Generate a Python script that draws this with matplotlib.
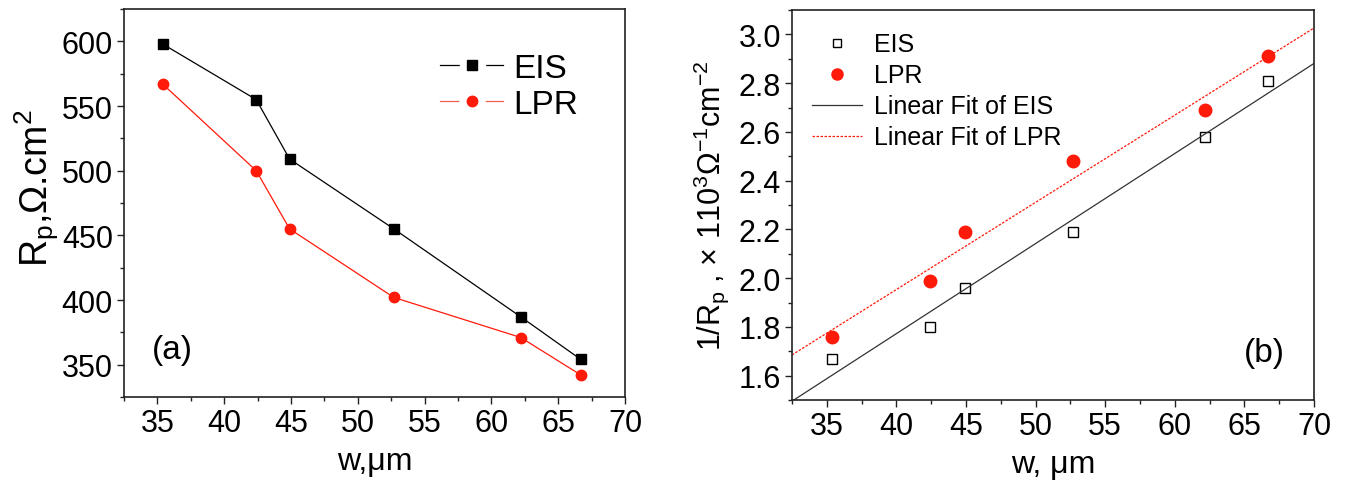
import numpy as np
import matplotlib
matplotlib.use("Agg")
import matplotlib.pyplot as plt
from matplotlib.ticker import MultipleLocator, FormatStrFormatter
from matplotlib.lines import Line2D

plt.rcParams['font.family'] = ['Liberation Sans', 'DejaVu Sans']
plt.rcParams['mathtext.fontset'] = 'custom'
plt.rcParams['mathtext.rm'] = 'Liberation Sans'

# data
w = [35.4, 42.4, 44.9, 52.7, 62.2, 66.7]
rp_eis = [598, 555, 509, 455, 387, 354]
rp_lpr = [567, 500, 455, 402, 371, 342]
inv_eis = [1.67, 1.80, 1.96, 2.19, 2.58, 2.81]
inv_lpr = [1.76, 1.99, 2.19, 2.48, 2.69, 2.91]

red = '#ff1a0a'

fig = plt.figure(figsize=(13.46, 4.81), dpi=100)
ax1 = fig.add_axes([0.0921, 0.1726, 0.3722, 0.8064])
ax2 = fig.add_axes([0.5884, 0.1663, 0.3878, 0.8107])


def style(ax):
    for s in ax.spines.values():
        s.set_color('#222222')
        s.set_linewidth(1.2)
    ax.tick_params(which='both', direction='out', top=False, right=False,
                   labelsize=22, pad=3, color='#222222')
    ax.tick_params(which='major', length=5, width=1)
    ax.tick_params(which='minor', length=3, width=1)
    ax.set_xlim(32.5, 70)
    ax.xaxis.set_major_locator(MultipleLocator(5))
    ax.xaxis.set_minor_locator(MultipleLocator(2.5))


# (a)
style(ax1)
ax1.plot(w, rp_eis, color='black', lw=0.9, marker='s', ms=7)
ax1.plot(w, rp_lpr, color=red, lw=0.9, marker='o', ms=7.5)
ax1.set_ylim(325, 625)
ax1.yaxis.set_major_locator(MultipleLocator(50))
ax1.yaxis.set_minor_locator(MultipleLocator(25))
ax1.set_xlabel('w,μm', fontsize=23, labelpad=6)
ax1.set_ylabel(r'R$_\mathregular{p}$,Ω.cm$^\mathregular{2}$', fontsize=27)
ax1.yaxis.set_label_coords(-0.125, 0.54)
ax1.text(0.055, 0.1, '(a)', transform=ax1.transAxes, fontsize=24)
# legend handles: line broken around the marker
h1 = [(Line2D([], [], color='black', lw=0.9, marker='s', ms=18, mec='white', mfc='white'),
       Line2D([], [], ls='none', marker='s', ms=7, color='black')),
      (Line2D([], [], color='#f06050', lw=0.9, marker='o', ms=18, mec='white', mfc='white'),
       Line2D([], [], ls='none', marker='o', ms=7.5, color=red))]
ax1.legend(h1, ['EIS', 'LPR'], loc='upper right', bbox_to_anchor=(0.94, 0.93),
           frameon=False, fontsize=24, handlelength=1.9, handletextpad=0.3,
           labelspacing=0.15, borderpad=0)

# (b)
style(ax2)
ax2.plot(w, inv_eis, ls='none', marker='s', ms=6.5, mfc='white', mec='black', mew=1)
ax2.plot(w, inv_lpr, ls='none', marker='o', ms=9, color=red)
xf = np.array([32.5, 70])
k1, b1 = np.polyfit(w, inv_eis, 1)
k2, b2 = np.polyfit(w, inv_lpr, 1)
ax2.plot(xf, k1 * xf + b1, color='#333333', lw=0.9)
ax2.plot(xf, k2 * xf + b2, color=red, lw=0.9, ls=(0, (2, 1.2)))
ax2.set_ylim(1.5, 3.1)
ax2.yaxis.set_major_locator(MultipleLocator(0.2))
ax2.yaxis.set_minor_locator(MultipleLocator(0.1))
ax2.yaxis.set_major_formatter(FormatStrFormatter('%.1f'))
ax2.set_xlabel('w, μm', fontsize=23, labelpad=6)
ax2.set_ylabel(r'1/R$_\mathregular{p}$ , × 110$^\mathregular{3}$Ω$^\mathregular{−1}$cm$^\mathregular{−2}$',
               fontsize=22, labelpad=5)
ax2.text(0.865, 0.1, '(b)', transform=ax2.transAxes, fontsize=24)
h2 = [Line2D([], [], ls='none', marker='s', ms=6, mfc='white', mec='black', mew=1),
      Line2D([], [], ls='none', marker='o', ms=8, color=red),
      Line2D([], [], color='#333333', lw=0.9),
      Line2D([], [], color=red, lw=0.9, ls=(0, (2, 1.2)))]
ax2.legend(h2, ['EIS', 'LPR', 'Linear Fit of EIS', 'Linear Fit of LPR'], loc='upper left',
           bbox_to_anchor=(0.015, 0.975), frameon=False, fontsize=18, handlelength=2.0,
           handletextpad=0.45, labelspacing=0.28, borderpad=0)

fig.savefig('out.png', dpi=100)
